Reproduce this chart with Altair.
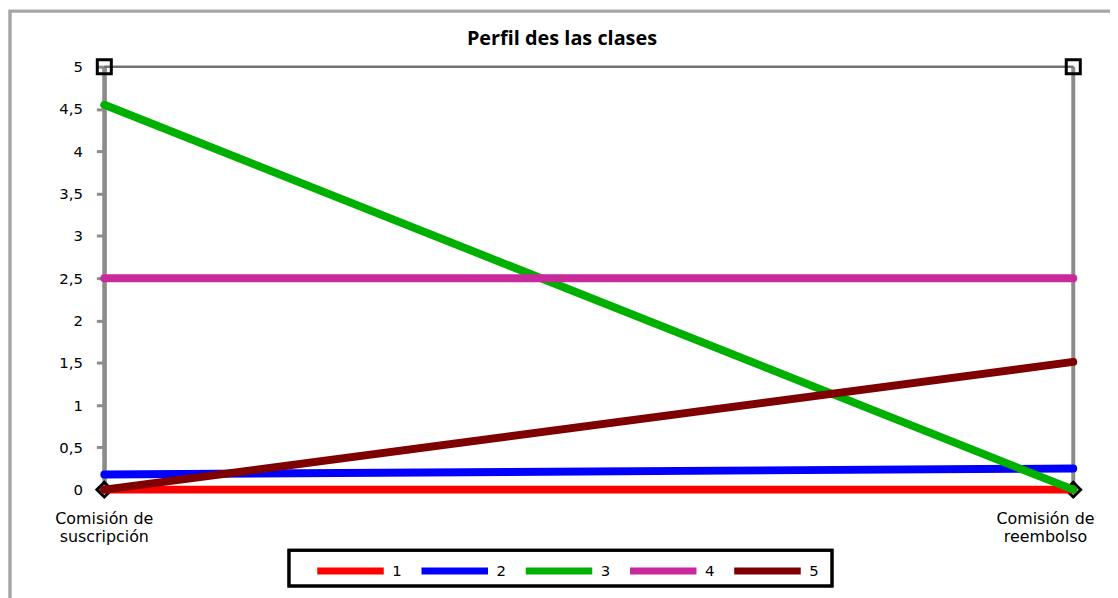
import altair as alt
import pandas as pd

# ---- data ----
title_text = "Perfil des las clases"
categories = ["Comisión de suscripción", "Comisión de reembolso"]
category_labels = ["Comisión de\nsuscripción", "Comisión de\nreembolso"]
classes = ["1", "2", "3", "4", "5"]
clase_1 = [0.0, 0.0]
clase_2 = [0.18, 0.25]
clase_3 = [4.55, 0.0]
clase_4 = [2.5, 2.5]
clase_5 = [0.0, 1.51]
class_colors = ["#ff0000", "#0000ff", "#00b000", "#c8299b", "#7f0000"]
y_ticks = [0, 0.5, 1, 1.5, 2, 2.5, 3, 3.5, 4, 4.5, 5]
y_min, y_max = 0, 5

series = [clase_1, clase_2, clase_3, clase_4, clase_5]
rows = []
for cls, vals in zip(classes, series):
    for cat, v in zip(categories, vals):
        rows.append({"Clase": cls, "Criterio": cat, "Valor": v})
df = pd.DataFrame(rows)
cats_df = pd.DataFrame({"Criterio": categories, "Etiqueta": category_labels})
title_df = pd.DataFrame({"Titulo": [title_text]})

W, H = 976, 426

x_enc = alt.X("Criterio:N", sort=categories,
              scale=alt.Scale(type="point", padding=0), axis=None)

# outer frame
frame = alt.Chart(cats_df).mark_rect(fill=None, stroke="#a6a6a6", strokeWidth=3).encode(
    x=alt.value(-95), x2=alt.value(1100), y=alt.value(-56), y2=alt.value(700)
)

# title
title = alt.Chart(title_df).mark_text(font="Open Sans", fontSize=20, fontWeight="bold",
                                      color="black", align="center",
                                      baseline="alphabetic").encode(
    x=alt.value(461), y=alt.value(-22), text="Titulo:N"
)

# vertical axis lines at each criterion
axes_rules = alt.Chart(cats_df).mark_rule(color="#8c8c8c", strokeWidth=4).encode(
    x=x_enc, y=alt.datum(y_min), y2=alt.datum(y_max)
)

# top horizontal line
top_rule = alt.Chart(cats_df).mark_rule(color="#6e6e6e", strokeWidth=2).encode(
    x=alt.value(0), x2=alt.value(W), y=alt.datum(y_max)
)

squares = alt.Chart(cats_df).mark_point(shape="square", filled=False, stroke="black",
                                        strokeWidth=3, size=200, opacity=1).encode(
    x=x_enc, y=alt.datum(y_max)
)
diamonds = alt.Chart(cats_df).mark_point(shape="diamond", filled=False, stroke="black",
                                         strokeWidth=3, size=220, opacity=1).encode(
    x=x_enc, y=alt.datum(y_min)
)

lines = alt.Chart(df).mark_line(strokeWidth=8, strokeCap="round").encode(
    x=x_enc,
    y=alt.Y("Valor:Q",
            scale=alt.Scale(domain=[y_min, y_max], nice=False, zero=False),
            axis=alt.Axis(values=y_ticks, title=None, grid=False,
                          labelExpr="replace(format(datum.value, '~g'), '.', ',')",
                          domainColor="#8c8c8c", domainWidth=4,
                          tickColor="#8c8c8c", tickWidth=3, tickSize=8,
                          labelPadding=14, labelFont="DejaVu Sans",
                          labelFontSize=15, labelColor="black")),
    color=alt.Color("Clase:N", sort=classes,
                    scale=alt.Scale(domain=classes, range=class_colors),
                    legend=alt.Legend(orient="none", direction="horizontal",
                                      legendX=211, legendY=471, title=None,
                                      symbolType="stroke", symbolSize=4489,
                                      symbolStrokeWidth=7, labelFont="DejaVu Sans",
                                      labelFontSize=15, labelColor="black",
                                      labelOffset=5, columnPadding=5, padding=0)),
)

legend_box = alt.Chart(cats_df).mark_rect(fill=None, stroke="black", strokeWidth=3).encode(
    x=alt.value(186), x2=alt.value(733), y=alt.value(487), y2=alt.value(523)
)

lbl_left = alt.Chart(cats_df).transform_filter(
    alt.datum.Criterio == categories[0]
).mark_text(font="DejaVu Sans", fontSize=16, color="black", lineBreak="\n",
            align="center", baseline="alphabetic", dy=35, lineHeight=18).encode(
    x=x_enc, y=alt.value(H), text="Etiqueta:N"
)
lbl_right = alt.Chart(cats_df).transform_filter(
    alt.datum.Criterio == categories[1]
).mark_text(font="DejaVu Sans", fontSize=16, color="black", lineBreak="\n",
            align="center", baseline="alphabetic", dx=-28, dy=35, lineHeight=18).encode(
    x=x_enc, y=alt.value(H), text="Etiqueta:N"
)

chart = alt.layer(
    frame, title, axes_rules, top_rule, squares, diamonds, lines, legend_box,
    lbl_left, lbl_right
).properties(
    width=W, height=H,
    autosize=alt.AutoSizeParams(type="none"),
    padding={"left": 97, "top": 57, "right": 37, "bottom": 107},
).configure_view(stroke=None).configure_legend(strokeColor=None)

chart.save("out.html", embed_options={"renderer": "svg", "actions": False})
